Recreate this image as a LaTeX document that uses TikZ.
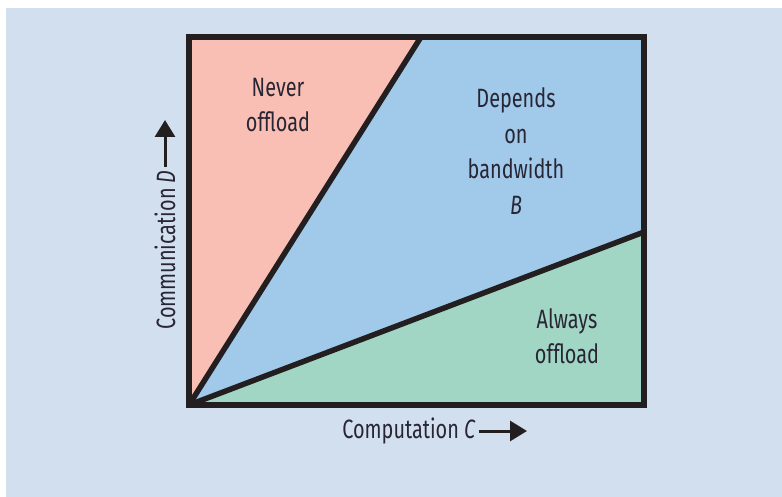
\documentclass[tikz,border=0pt]{standalone}
\usepackage{fontspec}
\setmainfont{Fira Sans}[FakeStretch=0.75]
\usetikzlibrary{arrows.meta}
\usetikzlibrary{positioning}

\definecolor{bgblue}{RGB}{210,223,239}
\definecolor{neverpink}{RGB}{249,191,180}
\definecolor{dependsblue}{RGB}{160,201,234}
\definecolor{alwaysgreen}{RGB}{161,214,196}
\definecolor{edgeblack}{RGB}{35,31,32}
\definecolor{textdark}{RGB}{40,38,52}

\begin{document}
\begin{tikzpicture}[x=1pt,y=-1pt,>={Triangle[length=17pt,width=20pt]},
    frame/.style={draw=edgeblack,line width=6pt,line join=miter},
    split/.style={draw=edgeblack,line width=5.5pt},
    region label/.style={align=center,text=textdark,font=\fontsize{26.5}{35.5}\selectfont},
    axis label/.style={text=textdark,font=\fontsize{26.5}{30}\selectfont},
    axis arrow/.style={->,draw=edgeblack,line width=3pt}]

   \useasboundingbox (0,0) rectangle (782,497);
   \fill[bgblue] (6,8) rectangle (782,497);

   \begin{scope}

    \coordinate (o) at (189,405);
    \coordinate (tl) at (189,37);
    \coordinate (tr) at (644,37);
    \coordinate (br) at (644,405);
    \coordinate (t) at (421,37);
    \coordinate (r) at (644,232);

    \fill[neverpink] (o) -- (tl) -- (t) -- cycle;
    \fill[dependsblue] (o) -- (t) -- (tr) -- (r) -- cycle;
    \fill[alwaysgreen] (o) -- (r) -- (br) -- cycle;

    \path[split] (o) edge (t);
    \path[split] (o) edge (r);
    \draw[frame] (o) -- (tl) -- (tr) -- (br) -- cycle;

    \node[region label] (never) at (278,105) {Never\\offload};
    \node[region label] (depends) at (516,151) {Depends\\on\\bandwidth\\\textit{B}};
    \node[region label] (always) at (567,336) {Always\\offload};

    \node[axis label] (xlabel) at (409,431) {Computation \textit{C}};
    \coordinate (xtip) at (527,431);
    \draw[axis arrow] (xlabel.east) -- (xtip);

    \node[axis label,rotate=90] (ylabel) at (165,250) {Communication \textit{D}};
    \coordinate (ytip) at (165,120);
    \draw[axis arrow] (ylabel.east) -- (ytip);

   \end{scope}
  \end{tikzpicture}
\end{document}
